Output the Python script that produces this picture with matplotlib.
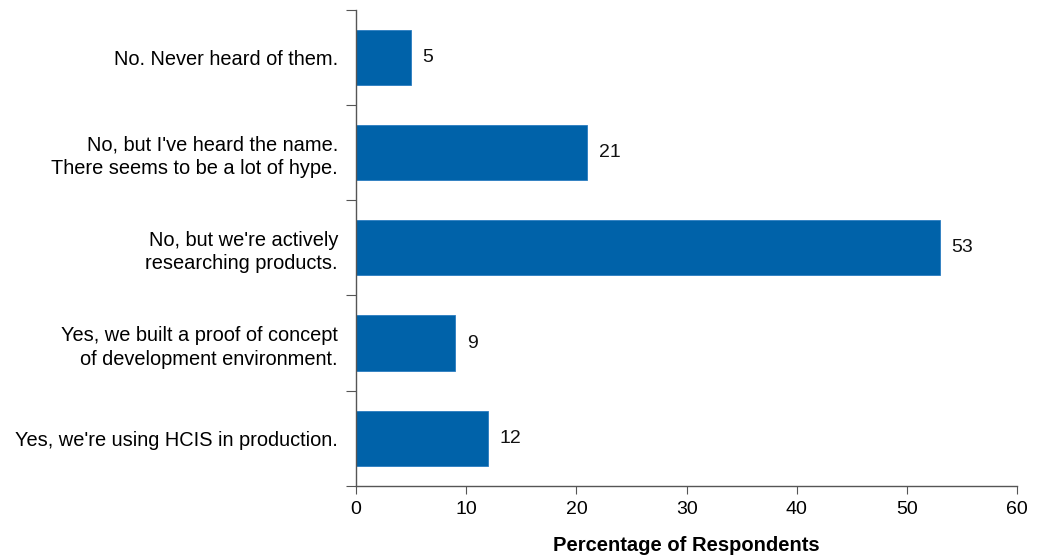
import matplotlib.pyplot as plt
import numpy as np

plt.rcParams['font.family'] = ['Liberation Sans', 'DejaVu Sans']

categories = [
    "No. Never heard of them.",
    "No, but I've heard the name.\nThere seems to be a lot of hype.",
    "No, but we're actively\nresearching products.",
    "Yes, we built a proof of concept\nof development environment.",
    "Yes, we're using HCIS in production.",
]
values = [5, 21, 53, 9, 12]
xticks = [0, 10, 20, 30, 40, 50, 60]

fig = plt.figure(figsize=(10.38, 5.57), dpi=100)
ax = fig.add_axes([0.343, 0.1275, 0.637, 0.855])

y = np.arange(len(categories))
bars = ax.barh(y, values, height=0.58, color='#0062A9', edgecolor='#2a7cc0', linewidth=0.6)
for b, v in zip(bars, values):
    ax.text(b.get_width() + 1.05, b.get_y() + b.get_height() / 2, str(v),
            va='center', ha='left', fontsize=14, color='#111111')

ax.set_ylim(len(categories) - 0.5, -0.5)
ax.set_xlim(0, 60)
ax.set_xticks(xticks)
ax.set_xticklabels([str(t) for t in xticks], fontsize=14)

# boundary ticks on the y axis, labels at the bar centres
ax.set_yticks(np.arange(len(categories) + 1) - 0.5)
ax.set_yticklabels([])
ax.set_yticks(y, minor=True)
ax.set_yticklabels(categories, minor=True, fontsize=14.4, ha='right',
                   multialignment='right', linespacing=1.3)
ax.tick_params(axis='y', which='minor', length=0, pad=13)
ax.tick_params(axis='y', which='major', length=7, color='#555555', direction='out')
ax.tick_params(axis='x', length=6, color='#555555', direction='out', pad=5)

for s in ['top', 'right']:
    ax.spines[s].set_visible(False)
for s in ['left', 'bottom']:
    ax.spines[s].set_color('#555555')
    ax.spines[s].set_linewidth(1.0)

ax.set_xlabel('Percentage of Respondents', fontsize=14.5, fontweight='bold', labelpad=13)

fig.savefig('out.png', dpi=100)
